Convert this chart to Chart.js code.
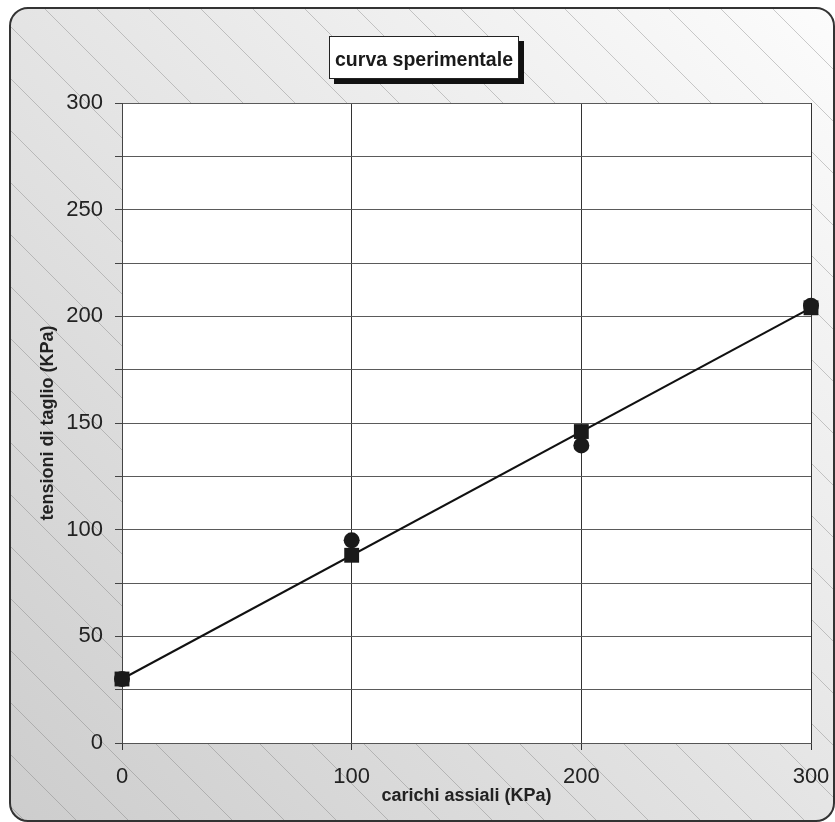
<!DOCTYPE html>
<html lang="it">
<head>
<meta charset="UTF-8">
<title>curva sperimentale</title>
<script src="https://cdn.jsdelivr.net/npm/chart.js"></script>
<style>
 html, body { margin: 0; padding: 0; background: #fff; }
 #wrap { width: 835px; height: 822px; }
</style>
</head>
<body>
<div id="wrap"><canvas id="chart" width="835" height="822"></canvas></div>
<script>
// dati
const carichi = [0, 100, 200, 300];
const tensioniCerchi = [30, 95, 139.5, 205];
const tensioniQuadrati = [30, 88, 146, 204];
const rettaX = [0, 300];
const rettaY = [30, 204];
const yTicks = [0, 50, 100, 150, 200, 250, 300];

const font = "'Liberation Sans', Arial, sans-serif";

function pts(xs, ys) {
  return xs.map((x, i) => ({ x: x, y: ys[i] }));
}

// sfondo con gradiente, tratteggio e cornice arrotondata
const sfondo = {
  id: 'sfondo',
  beforeDraw(chart) {
    const ctx = chart.ctx;
    const a = chart.chartArea;
    const x0 = 10, y0 = 8, x1 = 834, y1 = 821, r = 18;
    ctx.save();
    ctx.beginPath();
    ctx.roundRect(x0, y0, x1 - x0, y1 - y0, r);
    const g = ctx.createLinearGradient(x1, y0, x0, y1);
    g.addColorStop(0, '#fcfcfc');
    g.addColorStop(1, '#cdcdcd');
    ctx.fillStyle = g;
    ctx.fill();
    ctx.clip();
    ctx.strokeStyle = 'rgba(110,110,110,0.35)';
    ctx.lineWidth = 1;
    for (let s = -900; s < 900; s += 52) {
      ctx.beginPath();
      ctx.moveTo(s, 0);
      ctx.lineTo(s + 900, 900);
      ctx.stroke();
    }
    ctx.restore();
    ctx.fillStyle = '#fff';
    ctx.fillRect(a.left, a.top, a.right - a.left, a.bottom - a.top);
  },
  afterDraw(chart) {
    const ctx = chart.ctx;
    ctx.save();
    // cornice
    ctx.beginPath();
    ctx.roundRect(10, 8, 824, 813, 18);
    ctx.strokeStyle = '#333';
    ctx.lineWidth = 2;
    ctx.stroke();
    // riquadro titolo con ombra
    ctx.fillStyle = '#111';
    ctx.fillRect(334, 41, 190, 43);
    ctx.fillStyle = '#fff';
    ctx.fillRect(329, 36, 190, 43);
    ctx.strokeStyle = '#222';
    ctx.lineWidth = 1;
    ctx.strokeRect(329.5, 36.5, 189, 42);
    ctx.fillStyle = '#1a1a1a';
    ctx.font = 'bold 21px ' + font;
    ctx.textAlign = 'center';
    ctx.textBaseline = 'alphabetic';
    ctx.save();
    ctx.translate(424, 66);
    ctx.scale(0.93, 1);
    ctx.fillText('curva sperimentale', 0, 0);
    ctx.restore();
    ctx.restore();
  }
};

new Chart(document.getElementById('chart'), {
  type: 'scatter',
  data: {
    datasets: [
      {
        label: 'retta',
        type: 'line',
        data: pts(rettaX, rettaY),
        borderColor: '#111',
        borderWidth: 2,
        pointRadius: 0,
        fill: false,
        clip: false,
        order: 3
      },
      {
        label: 'cerchi',
        data: pts(carichi, tensioniCerchi),
        pointStyle: 'circle',
        pointRadius: 8,
        backgroundColor: '#1a1a1a',
        borderColor: '#1a1a1a',
        borderWidth: 0,
        clip: false,
        order: 2
      },
      {
        label: 'quadrati',
        data: pts(carichi, tensioniQuadrati),
        pointStyle: 'rect',
        pointRadius: 10.5,
        backgroundColor: '#1a1a1a',
        borderColor: '#1a1a1a',
        borderWidth: 0,
        clip: false,
        order: 1
      }
    ]
  },
  plugins: [sfondo],
  options: {
    responsive: false,
    animation: false,
    events: [],
    layout: { padding: { top: 103, right: 24, left: 0, bottom: 0 } },
    plugins: {
      legend: { display: false },
      tooltip: { enabled: false },
      title: { display: false }
    },
    scales: {
      x: {
        type: 'linear',
        min: 0,
        max: 300,
        afterFit(scale) {
          scale.height = 79;
          scale.paddingLeft = 0;
          scale.paddingRight = 0;
        },
        ticks: {
          stepSize: 100,
          color: '#222',
          padding: 14,
          font: { family: font, size: 22 }
        },
        grid: {
          color: '#333',
          lineWidth: 1,
          tickLength: 7,
          tickColor: '#333'
        },
        border: { color: '#555', width: 1 },
        title: {
          display: true,
          text: 'carichi assiali (KPa)',
          color: '#222',
          font: { family: font, size: 18, weight: 'bold' },
          padding: { top: 0, bottom: 15 }
        }
      },
      y: {
        type: 'linear',
        min: 0,
        max: 300,
        afterFit(scale) {
          scale.width = 122;
          scale.paddingTop = 0;
          scale.paddingBottom = 0;
        },
        ticks: {
          stepSize: 25,
          color: '#222',
          padding: 12,
          font: { family: font, size: 22 },
          callback: v => yTicks.includes(v) ? v : ''
        },
        grid: {
          color: '#5a5a5a',
          lineWidth: 1,
          tickLength: 7,
          tickColor: '#444'
        },
        border: { color: '#444', width: 1 },
        title: {
          display: true,
          text: 'tensioni di taglio (KPa)',
          color: '#222',
          font: { family: font, size: 18, weight: 'bold' },
          padding: { top: 37, bottom: 0 }
        }
      }
    }
  }
});
</script>
</body>
</html>
